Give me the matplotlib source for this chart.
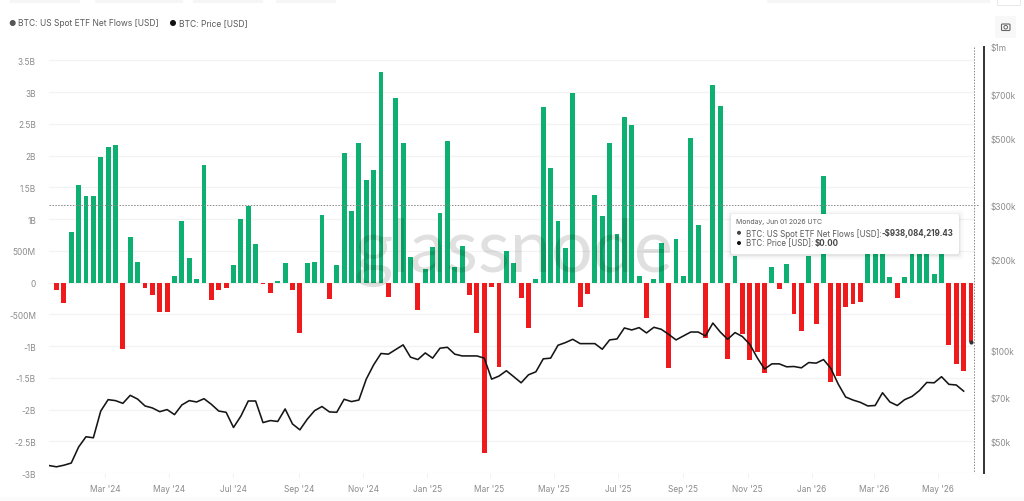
import matplotlib
matplotlib.use('Agg')
import matplotlib.pyplot as plt
import matplotlib.dates as mdates
import pandas as pd
from matplotlib.patches import FancyBboxPatch, Rectangle, Circle

plt.rcParams['font.family'] = ['Inter', 'DejaVu Sans']

W, H = 1024, 502

# weekly net flows in billions of USD, week of 2024-01-15 to 2026-06-01
flows_b = [
    -0.12, -0.32, 0.79, 1.54, 1.36, 1.36, 1.97, 2.13, 2.17, -1.05,
    0.72, 0.33, -0.09, -0.20, -0.47, -0.47, 0.10, 0.97, 0.38, 0.05,
    1.85, -0.27, -0.12, -0.09, 0.27, 1.00, 1.20, 0.61, -0.03, -0.16,
    0.03, 0.30, -0.12, -0.79, 0.30, 0.33, 1.07, -0.26, 0.28, 2.04,
    1.13, 2.20, 1.62, 1.77, 3.32, -0.23, 2.91, 2.20, 0.40, -0.43,
    0.22, 0.56, 1.10, 2.23, 0.24, 0.58, -0.19, -0.79, -2.68, -0.07,
    -1.33, 0.49, 0.31, -0.24, -0.72, 0.05, 2.77, 1.81, 0.97, 0.55,
    2.98, -0.38, -0.18, 1.38, 1.04, 2.19, 0.77, 2.60, 2.48, 0.11,
    -0.56, 0.06, 0.63, -1.35, 0.68, 0.11, 2.27, 0.91, -0.87, 3.11,
    2.78, -1.21, 0.41, -0.81, -1.22, -1.10, -1.43, 0.25, -0.10, 0.29,
    -0.49, -0.77, 0.41, -0.66, 1.67, -1.56, -1.48, -0.39, -0.34, -0.30,
    0.80, 0.70, 0.85, 0.08, -0.25, 0.09, 0.55, 0.90, 0.65, 0.14,
    0.60, -0.98, -1.28, -1.40, -0.938,
]

# weekly BTC close in thousands of USD, starts one week before the flows
price_k = [
    41.8, 41.4, 41.9, 42.6, 48.1, 52.0, 51.6, 63.2, 68.9, 68.4,
    67.0, 71.2, 69.2, 65.7, 64.7, 62.9, 63.9, 61.5, 66.2, 68.4,
    67.7, 69.4, 66.5, 63.2, 62.6, 55.8, 60.8, 68.2, 68.2, 57.9,
    58.8, 58.4, 64.2, 57.3, 54.8, 59.4, 63.4, 65.4, 62.8, 62.6,
    69.1, 67.9, 68.7, 80.5, 89.7, 97.8, 97.3, 100.8, 104.4, 95.1,
    93.4, 98.2, 94.4, 101.8, 102.5, 97.3, 96.0, 96.0, 96.0, 94.4,
    80.5, 82.4, 85.8, 82.0, 78.3, 83.2, 85.1, 93.9, 94.4, 104.1,
    106.2, 108.9, 105.4, 105.4, 105.4, 101.0, 108.4, 109.2, 118.7, 116.9,
    119.0, 114.3, 119.3, 117.5, 113.1, 108.4, 111.7, 115.1, 115.1, 111.7,
    123.2, 115.1, 108.9, 114.6, 111.2, 104.9, 94.8, 86.9, 90.4, 90.4,
    88.4, 88.6, 87.7, 91.3, 90.9, 93.4, 87.3, 77.5, 70.3, 68.7,
    67.5, 65.7, 65.9, 72.6, 67.7, 65.9, 68.9, 70.6, 73.8, 78.5,
    78.3, 82.0, 77.4, 77.0, 73.5,
]

flow_ticks = [-3, -2.5, -2, -1.5, -1, -0.5, 0, 0.5, 1, 1.5, 2, 2.5, 3, 3.5]
flow_tick_labels = ['-3B', '-2.5B', '-2B', '-1.5B', '-1B', '-500M', '0',
                    '500M', '1B', '1.5B', '2B', '2.5B', '3B', '3.5B']
price_ticks = [50e3, 70e3, 100e3, 200e3, 300e3, 500e3, 700e3, 1e6]
price_tick_labels = ['$50k', '$70k', '$100k', '$200k', '$300k', '$500k', '$700k', '$1m']

GREEN = '#0eb071'
RED = '#ee1a1c'
TICK_GREY = '#8b8b8b'
TEXT_GREY = '#5a5a5a'

flow_dates = pd.date_range('2024-01-15', periods=len(flows_b), freq='7D')
price_dates = pd.date_range('2024-01-08', periods=len(price_k), freq='7D')
flows = [v * 1e9 for v in flows_b]
prices = [v * 1e3 for v in price_k]

fig = plt.figure(figsize=(W / 100, H / 100), dpi=100, facecolor='white')
ax = fig.add_axes([48.5 / W, 1 - 474 / H, (974 - 48.5) / W, (474 - 48) / H])

colors = [GREEN if v >= 0 else RED for v in flows]
ax.bar(flow_dates, flows, width=4.6, color=colors, zorder=2)
ax.scatter(flow_dates[-1], flows[-1], s=4, color='#333333', zorder=3)

ax.set_xlim(pd.Timestamp('2024-01-07 10:00'), pd.Timestamp('2026-06-03 20:00'))
ax.set_ylim(-3e9, 3.709e9)
ax.set_yticks([v * 1e9 for v in flow_ticks])
ax.set_yticklabels(flow_tick_labels)
ax.grid(axis='y', color='#f3f3f3', linewidth=0.9, zorder=0)
ax.set_axisbelow(True)
ax.xaxis.set_major_locator(mdates.MonthLocator(bymonth=[1, 3, 5, 7, 9, 11]))
ax.xaxis.set_major_formatter(mdates.DateFormatter("%b '%y"))
ax.tick_params(axis='y', length=0, pad=9, labelsize=6, labelcolor=TICK_GREY)
ax.tick_params(axis='x', length=3, width=0.6, color='#eeeeee', pad=5.2,
               labelsize=6, labelcolor=TICK_GREY)
for s in ax.spines.values():
    s.set_visible(False)

ax2 = ax.twinx()
ax2.set_yscale('log')
ax2.plot(price_dates, prices, color='#151515', linewidth=1.15, zorder=4,
         solid_joinstyle='round')
ax2.set_ylim(39.5e3, 1e6)
ax2.set_yticks(price_ticks)
ax2.set_yticklabels(price_tick_labels)
ax2.minorticks_off()
ax2.tick_params(axis='y', length=0, pad=4.5, labelsize=6, labelcolor=TICK_GREY)
for name, s in ax2.spines.items():
    s.set_visible(name == 'right')
ax2.spines['right'].set_position(('outward', 7.2))
ax2.spines['right'].set_linewidth(1.4)
ax2.spines['right'].set_color('#333333')

# overlay in pixel units for the page furniture around the chart
ov = fig.add_axes([0, 0, 1, 1], zorder=10)
ov.set_xlim(0, W)
ov.set_ylim(H, 0)
ov.axis('off')
ov.patch.set_alpha(0)

# crosshair
ov.plot([49, 978], [206, 206], color='#888888', lw=0.7, ls=(0, (1.5, 1.5)), zorder=1)
ov.plot([974, 974], [48, 474], color='#888888', lw=0.7, ls=(0, (1.5, 1.5)), zorder=1)

# watermark
ov.text(514, 272, 'glassnode', family='Lato', fontsize=53,
        color='#000000', alpha=0.12, ha='center', va='baseline', zorder=2)

# series legend
ov.add_patch(Circle((12.7, 24), 2.3, color='#555555', zorder=3))
ov.text(18.5, 24, 'BTC: US Spot ETF Net Flows [USD]', fontsize=6.1, color=TEXT_GREY,
        va='center', zorder=3)
ov.add_patch(Circle((173, 24), 2.3, color='#111111', zorder=3))
ov.text(179, 24, 'BTC: Price [USD]', fontsize=6.1, color=TEXT_GREY, va='center', zorder=3)

# camera button
ov.add_patch(Rectangle((995, 17), 21, 22, color='#f8f8f8', lw=0, zorder=3))
ov.add_patch(FancyBboxPatch((1001.5, 25), 8.5, 6.5, boxstyle='round,pad=0,rounding_size=1',
                            fc='none', ec='#666666', lw=0.8, zorder=4))
ov.add_patch(Circle((1005.7, 28.2), 1.8, fc='none', ec='#666666', lw=0.7, zorder=4))

# remains of the toolbar along the top edge
for x0, x1 in [(10, 80), (95, 183), (193, 263), (276, 336), (767, 990)]:
    ov.add_patch(Rectangle((x0, 0), x1 - x0, 4, color='#f6f6f6', lw=0, zorder=1))
ov.add_patch(Rectangle((997, -2), 23, 8, fc='white', ec='#e8e8e8', lw=0.7, zorder=2))
ov.add_patch(Rectangle((0, 498), W, 4, color='#fbfbfb', lw=0, zorder=1))

# tooltip with a soft shadow
for grow, alpha in [(5, 0.012), (3.5, 0.02), (2, 0.03), (1, 0.04)]:
    ov.add_patch(FancyBboxPatch((731 - grow, 215 - grow + 1), 228 + 2 * grow, 40 + 2 * grow,
                                boxstyle='round,pad=0,rounding_size=3', fc='black', ec='none',
                                alpha=alpha, zorder=5))
ov.add_patch(FancyBboxPatch((731, 215), 228, 40, boxstyle='round,pad=0,rounding_size=2',
                            fc='white', ec='none', zorder=6))
ov.text(736.5, 222.5, 'Monday, Jun 01 2026 UTC', fontsize=4.95, color=TEXT_GREY, va='center', zorder=7)
ov.add_patch(Circle((739, 233.8), 1.3, color='#444444', zorder=7))
ov.add_patch(Circle((739, 244), 1.3, color='#111111', zorder=7))
ov.text(746.5, 233.8, 'BTC: US Spot ETF Net Flows [USD]:', fontsize=5.75, color=TEXT_GREY,
        va='center', zorder=7)
ov.text(882, 233.8, '-$938,084,219.43', fontsize=5.7, color='#444444', weight='bold',
        va='center', zorder=7)
ov.text(746.5, 244, 'BTC: Price [USD]:', fontsize=5.75, color=TEXT_GREY, va='center', zorder=7)
ov.text(815, 244, '$0.00', fontsize=5.7, color='#444444', weight='bold', va='center', zorder=7)

fig.savefig('out.png', dpi=100)
